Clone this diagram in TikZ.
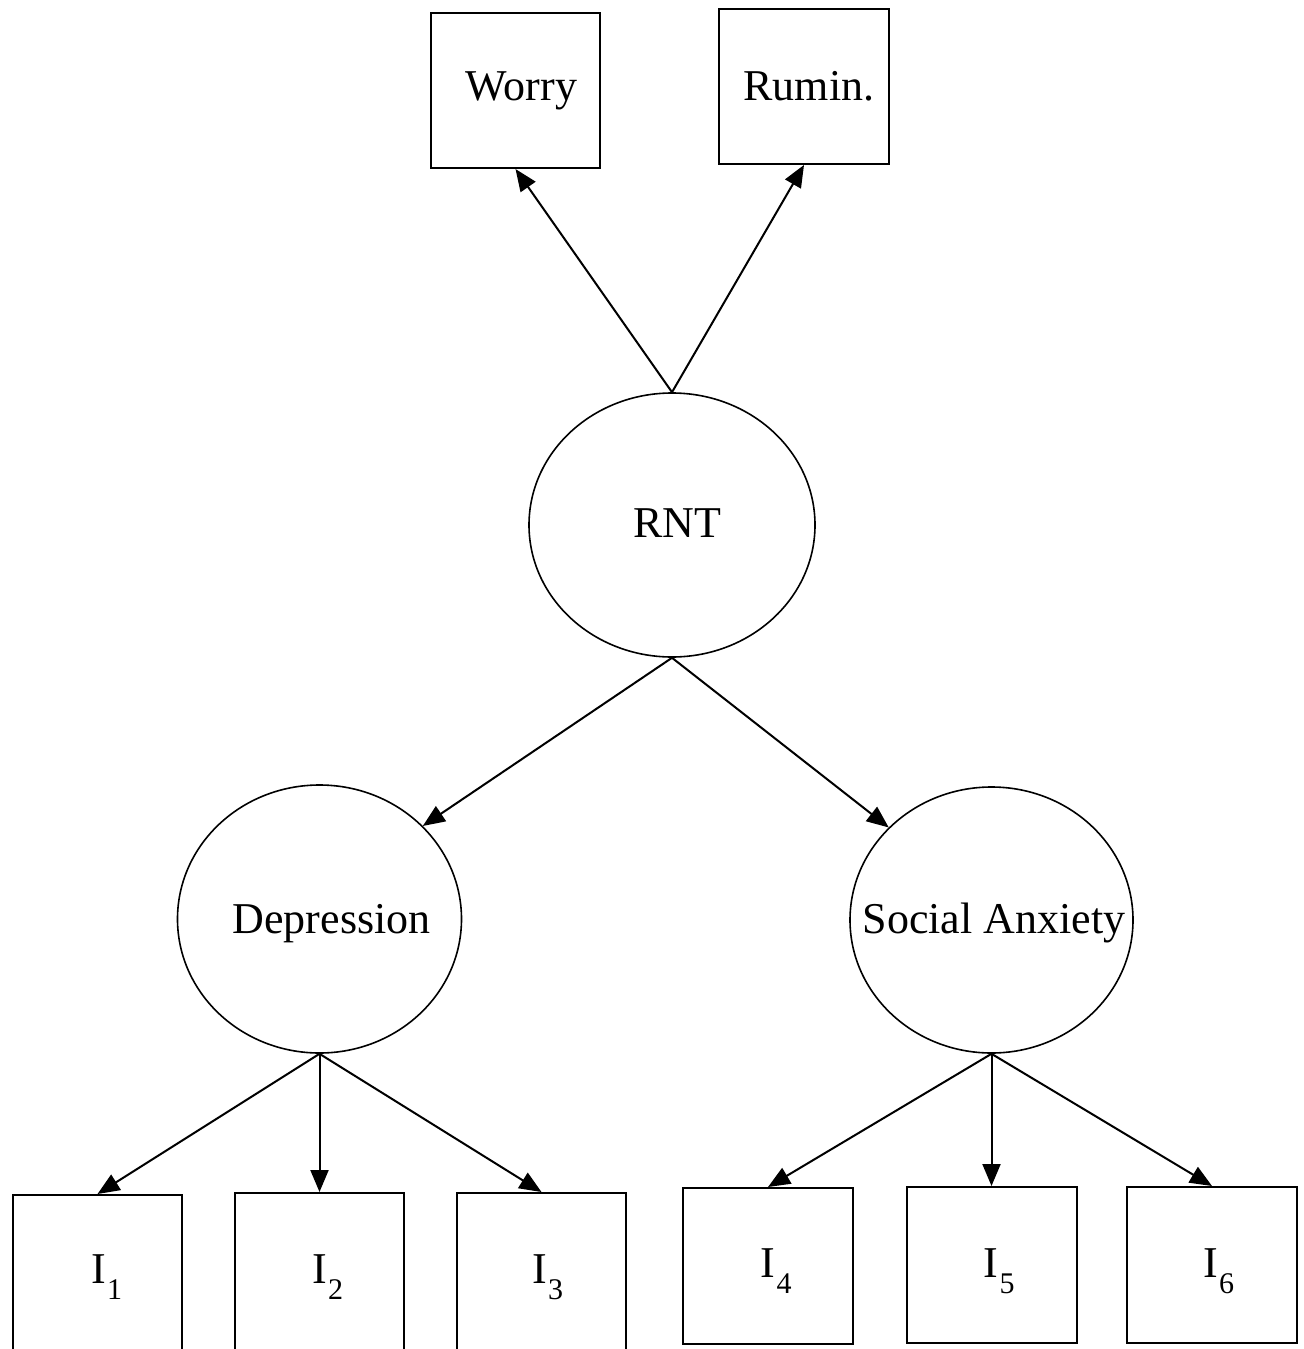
\documentclass[tikz,border=0pt]{standalone}
\usepackage{fontspec}
\setmainfont{Liberation Serif}
\usetikzlibrary{arrows.meta,shapes.geometric}
\newcommand\isub[1]{I\kern0.5pt\raisebox{-8pt}{\fontsize{15}{15}\selectfont #1}}
\begin{document}
\begin{tikzpicture}[x=0.5pt,y=-0.5pt,
  box/.style={draw, line width=1pt, minimum width=84.5pt, minimum height=77.5pt, inner sep=0pt},
  latent/.style={draw, ellipse, line width=0.8pt, inner sep=0pt},
  txt/.style={font=\fontsize{22}{22}\selectfont, inner sep=0pt, anchor=base},
  itxt/.style={txt, anchor=base west},
  arr/.style={-{Triangle[length=11pt,width=9pt]}, line width=1pt}]
\clip (0,0) rectangle (1304,1349);
\fill[white] (0,0) rectangle (1304,1349);
% observed indicators top
\node[box] (worry) at (515.5,90.5) {};
\node[box, minimum width=85pt] (rumin) at (804,86.5) {};
\node[txt] (tworry) at (521.5,100) {Worry};
\node[txt] (trumin) at (809,100) {Rumin.};
% latent variables
\node[latent, minimum width=143pt, minimum height=132pt] (rnt) at (672,525) {};
\node[latent, minimum width=142pt, minimum height=134pt] (dep) at (319.5,919) {};
\node[latent, minimum width=141.5pt, minimum height=133pt] (sa) at (991.5,920) {};
\node[txt] (trnt) at (677.5,537) {RNT};
\node[txt] (tdep) at (331.5,933) {Depression};
\node[txt] (tsa) at (994,933) {Social Anxiety};
% bottom indicators
\node[box, minimum height=82pt] (i1) at (97.5,1277) {};
\node[box, minimum height=82pt] (i2) at (319.5,1275) {};
\node[box, minimum height=82pt] (i3) at (541.5,1275) {};
\node[box, minimum width=85pt, minimum height=78pt] (i4) at (768,1266) {};
\node[box, minimum width=85pt, minimum height=78pt] (i5) at (991.5,1265) {};
\node[box, minimum width=85pt, minimum height=78pt] (i6) at (1212,1265) {};
\node[itxt] (ti1) at (91,1283) {\isub{1}};
\node[itxt] (ti2) at (312,1283) {\isub{2}};
\node[itxt] (ti3) at (532,1283) {\isub{3}};
\node[itxt] (ti4) at (760.5,1277) {\isub{4}};
\node[itxt] (ti5) at (983.5,1277) {\isub{5}};
\node[itxt] (ti6) at (1203,1277) {\isub{6}};
% connectors
\draw[arr] (rnt.north) -- (worry.south);
\draw[arr] (rnt.north) -- (rumin.south);
\draw[arr] (rnt.south) -- (dep.42);
\draw[arr] (rnt.south) -- (sa.138);
\draw[arr] (dep.south) -- (i1.north);
\draw[arr] (dep.south) -- (i2.north);
\draw[arr] (dep.south) -- (i3.north);
\draw[arr] (sa.south) -- (i4.north);
\draw[arr] (sa.south) -- (i5.north);
\draw[arr] (sa.south) -- (i6.north);
\end{tikzpicture}
\end{document}
